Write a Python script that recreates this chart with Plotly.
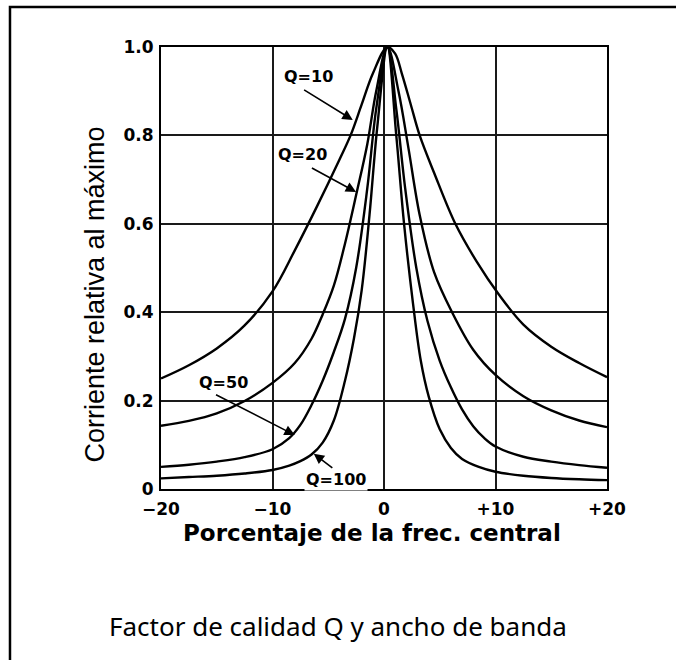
import plotly.graph_objects as go

# ---- data ----
x_q10 = [-20, -17.5, -15, -12.5, -10, -8, -6, -4, -3, -2, -1, 0.3,
         1.0, 1.6, 2.4, 3.2, 4.5, 6.4, 8.3, 10.3, 12.5, 15, 17.5, 20]
y_q10 = [0.25, 0.28, 0.318, 0.37, 0.447, 0.54, 0.64, 0.745, 0.80, 0.87, 0.94, 1.0,
         0.985, 0.94, 0.87, 0.80, 0.715, 0.60, 0.515, 0.44, 0.372, 0.322, 0.285, 0.253]

x_q20 = [-20, -17.5, -15, -12.5, -10, -8, -6.5, -5.5, -4.5, -3.5, -2.5, -1.5, -0.7, 0.3,
         1.3, 2.2, 3.2, 4.5, 6.1, 8, 10, 12.5, 15, 17.5, 20]
y_q20 = [0.143, 0.154, 0.171, 0.199, 0.24, 0.285, 0.34, 0.395, 0.46, 0.555, 0.665, 0.78, 0.90, 1.0,
         0.90, 0.77, 0.62, 0.49, 0.40, 0.315, 0.258, 0.21, 0.178, 0.155, 0.14]

x_q50 = [-20, -17.5, -15, -12.5, -10, -8.5, -7.5, -6.5, -5.5, -4.5, -3.5, -2.5, -1.5, -0.7, 0.3,
         1.1, 1.9, 2.9, 3.9, 5, 6, 7, 8, 9, 10, 12.5, 15, 17.5, 20]
y_q50 = [0.05, 0.055, 0.062, 0.072, 0.09, 0.115, 0.145, 0.19, 0.245, 0.31, 0.385, 0.50, 0.68, 0.86, 1.0,
         0.86, 0.68, 0.50, 0.38, 0.29, 0.23, 0.18, 0.142, 0.115, 0.096, 0.073, 0.062, 0.054, 0.048]

x_q100 = [-20, -17.5, -15, -12.5, -10, -8.5, -7.5, -6.5, -5.5, -4.5, -3.5, -2.7, -2, -1.3, -0.6, 0.3,
          1.1, 1.8, 2.6, 3.3, 4, 5, 6, 7, 8.5, 10, 12.5, 15, 17.5, 20]
y_q100 = [0.024, 0.027, 0.03, 0.035, 0.043, 0.053, 0.063, 0.078, 0.105, 0.155, 0.245, 0.34, 0.45, 0.62, 0.82, 1.0,
          0.80, 0.60, 0.42, 0.29, 0.21, 0.135, 0.093, 0.068, 0.05, 0.039, 0.03, 0.025, 0.022, 0.02]

x_tick_vals = [-20, -10, 0, 10, 20]
x_tick_text = ["\u221220", "\u221210", "0", "+10", "+20"]
y_tick_vals = [0, 0.2, 0.4, 0.6, 0.8, 1.0]
y_tick_text = ["0", "0.2", "0.4", "0.6", "0.8", "1.0"]

curve_labels = ["Q=10", "Q=20", "Q=50", "Q=100"]
label_pos = [(-6.8, 0.934), (-7.3, 0.756), (-14.4, 0.24), (-4.3, 0.022)]
arrow_tail = [(-7.3, 0.905), (-6.6, 0.728), (-15.2, 0.215), (-4.5, 0.045)]
arrow_head = [(-2.8, 0.835), (-2.5, 0.672), (-8.0, 0.122), (-6.3, 0.08)]

x_title = "Porcentaje de la frec. central"
y_title = "Corriente relativa al máximo"
caption = "Factor de calidad Q y ancho de banda"

fig = go.Figure()
for xs, ys in [(x_q10, y_q10), (x_q20, y_q20), (x_q50, y_q50), (x_q100, y_q100)]:
    fig.add_trace(go.Scatter(x=xs, y=ys, mode="lines",
                             line=dict(color="black", width=2.4, shape="spline", smoothing=1.0),
                             showlegend=False, hoverinfo="skip"))

tick_font = dict(family="DejaVu Sans", size=17, color="black", weight="bold")

fig.update_xaxes(range=[-20, 20], tickvals=x_tick_vals, ticktext=x_tick_text,
                 showgrid=True, gridcolor="#1a1a1a", gridwidth=1.6,
                 showline=True, linecolor="black", linewidth=2, mirror=True,
                 zeroline=False, ticks="", tickfont=tick_font, ticklabelstandoff=4)
fig.update_yaxes(range=[0, 1.0], tickvals=y_tick_vals, ticktext=y_tick_text,
                 showgrid=True, gridcolor="#1a1a1a", gridwidth=1.6,
                 showline=True, linecolor="black", linewidth=2, mirror=True,
                 zeroline=False, ticks="", tickfont=tick_font, ticklabelstandoff=2)

anns = []
for lab, (lx, ly) in zip(curve_labels, label_pos):
    anns.append(dict(x=lx, y=ly, xref="x", yref="y", text=lab, showarrow=False,
                     font=dict(family="DejaVu Sans", size=16, color="black", weight="bold"),
                     bgcolor="white"))
for (tx, ty), (hx, hy) in zip(arrow_tail, arrow_head):
    anns.append(dict(x=hx, y=hy, ax=tx, ay=ty, xref="x", yref="y", axref="x", ayref="y",
                     text="", showarrow=True, arrowhead=2, arrowsize=1.3, arrowwidth=1.6,
                     arrowcolor="black"))
anns.append(dict(x=0.473, y=-0.0995, xref="paper", yref="paper", text=x_title, showarrow=False,
                 font=dict(family="DejaVu Sans", size=23, color="black", weight="bold"),
                 xanchor="center", yanchor="middle"))
anns.append(dict(x=-0.148, y=0.44, xref="paper", yref="paper", text=y_title, showarrow=False,
                 textangle=-90,
                 font=dict(family="Liberation Sans", size=27, color="black"),
                 xanchor="center", yanchor="middle"))
anns.append(dict(x=0.397, y=-0.31, xref="paper", yref="paper", text=caption, showarrow=False,
                 font=dict(family="Noto Sans", size=26, color="black"),
                 xanchor="center", yanchor="middle"))

fig.update_layout(
    width=676, height=660,
    margin=dict(l=161, r=69, t=47, b=171),
    paper_bgcolor="white", plot_bgcolor="white",
    annotations=anns,
    shapes=[dict(type="rect", xref="paper", yref="paper",
                 x0=-0.3386, x1=2.0, y0=-2.0, y1=1.0905,
                 line=dict(color="black", width=2.5), layer="above")],
)

fig.write_html("out.html", config={"displayModeBar": False},
               post_script="document.body.style.margin='0px';document.body.style.overflow='hidden';")
